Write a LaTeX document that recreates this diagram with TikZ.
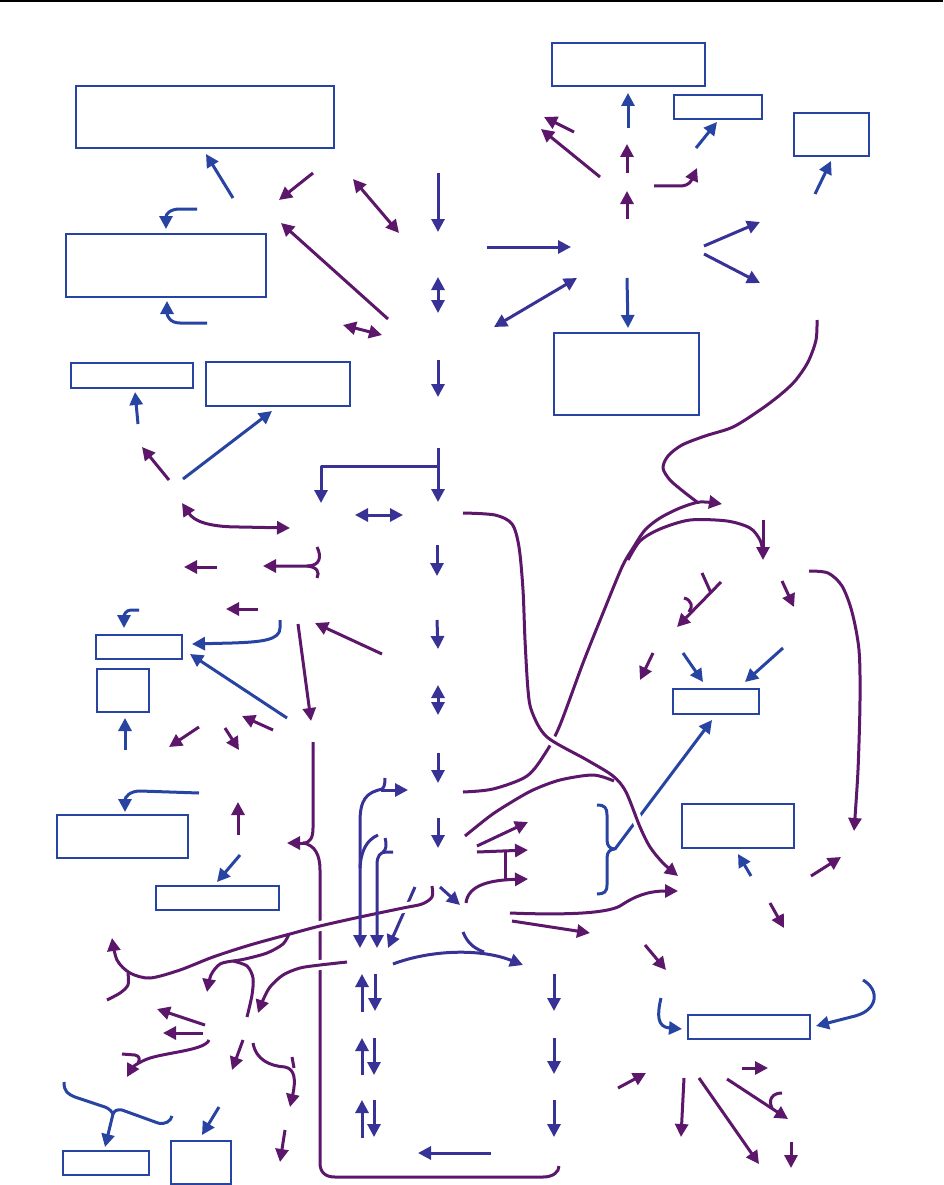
\documentclass[tikz,border=0pt]{standalone}
\usetikzlibrary{arrows.meta}
\definecolor{purp}{RGB}{92,22,106}
\definecolor{indg}{RGB}{56,50,150}
\definecolor{bblue}{RGB}{40,68,162}
\tikzset{
  lnbase/.style={line width=3pt, line cap=butt, line join=round},
  endtip/.style={-{Triangle[length=13pt,width=13pt]}},
  bothtips/.style={{Triangle[length=13pt,width=13pt]}-{Triangle[length=13pt,width=13pt]}},
  pl/.style={lnbase, color=purp},
  pu/.style={pl, endtip},
  pd/.style={pl, bothtips},
  il/.style={lnbase, color=indg},
  iu/.style={il, endtip},
  idd/.style={il, bothtips},
  bl/.style={lnbase, color=bblue},
  bu/.style={bl, endtip},
  boxst/.style={draw=bblue, line width=2pt, inner sep=0pt, outer sep=0pt, fill=white},
  gapped/.style={preaction={draw=white, line width=10pt}},
}
\begin{document}
\begin{tikzpicture}[x=1pt,y=-1pt]
\useasboundingbox (0,0) rectangle (943,1185);
\fill[white] (0,0) rectangle (943,1185);
\draw[black, line width=1.8pt] (0,1) -- (943,1);

% boxes
\node[boxst, minimum width=258pt, minimum height=62pt] (A) at (205,117) {};
\node[boxst, minimum width=200pt, minimum height=63pt] (B) at (166,265.5) {};
\node[boxst, minimum width=153pt, minimum height=43pt] (C) at (628.5,64.5) {};
\node[boxst, minimum width=88pt, minimum height=24pt] (D) at (718,107) {};
\node[boxst, minimum width=75pt, minimum height=43pt] (E) at (831.5,134.5) {};
\node[boxst, minimum width=145pt, minimum height=82pt] (F) at (626.5,374) {};
\node[boxst, minimum width=122pt, minimum height=25pt] (L) at (132,375.5) {};
\node[boxst, minimum width=144pt, minimum height=44pt] (M) at (278,384) {};
\node[boxst, minimum width=86pt, minimum height=24pt] (N) at (139,647) {};
\node[boxst, minimum width=52pt, minimum height=43pt] (O) at (123,690.5) {};
\node[boxst, minimum width=86pt, minimum height=25pt] (G) at (716,701.5) {};
\node[boxst, minimum width=112pt, minimum height=44pt] (H) at (738,826) {};
\node[boxst, minimum width=131pt, minimum height=43pt] (P) at (122.5,836.5) {};
\node[boxst, minimum width=123pt, minimum height=24pt] (Q) at (217.5,898) {};
\node[boxst, minimum width=122pt, minimum height=24pt] (K) at (749,1027) {};
\node[boxst, minimum width=86pt, minimum height=24pt] (I) at (106,1163) {};
\node[boxst, minimum width=60pt, minimum height=43pt] (J) at (201,1162.5) {};

% top-left
\draw[bu] (233,198) -- (206,154);
\draw[pu] (313,173) -- (279,200);
\draw[pd] (353,179) -- (399,233);
\draw[iu] (438,173) -- (438,232);
\draw[bu] (197,209) -- (180,209) .. controls (170,209) and (166,214) .. (166,229);
\draw[bu] (207,323) -- (180,323) .. controls (170,323) and (167,316) .. (167,301);
\draw[pu] (388,319) -- (281,223);
\draw[idd] (438,277) -- (438,313);
\draw[pd] (343,325) -- (382,335);

% top-right
\draw[bu] (628,128) -- (628,93);
\draw[pu] (574,132) -- (544,117);
\draw[pu] (600,177) -- (541,129);
\draw[pu] (627,173) -- (627,144);
\draw[pu] (627,219) -- (627,191);
\draw[bu] (696,148) -- (717,122);
\draw[pu] (654,186) -- (680,186) .. controls (690,186) and (692,179) .. (697,168);
\draw[bu] (815,194) -- (831,161);
\draw[iu] (487,247) -- (571,247);
\draw[idd] (494,327) -- (577,278);
\draw[bu] (627,278) -- (628,328);
\draw[iu] (704,246) -- (760,222);
\draw[iu] (704,254) -- (760,283);

% middle left
\draw[bu] (138,424) -- (135,392);
\draw[bu] (183,479) -- (272,411);
\draw[pu] (169,480) -- (142,447);
\draw[iu] (438,360) -- (438,397);
\draw[iu] (438,448) -- (438,502);
\draw[iu] (438,466) -- (321,466) -- (321,503);
\draw[idd] (355,515) -- (403,515);
\draw[pd] (182,503) .. controls (194,521) and (208,527) .. (240,527) -- (290,528);
\draw[iu] (437,545) -- (437,576);
\draw[pu] (217,567) -- (184,567);
\draw[pu] (317,547) .. controls (322,557) and (320,566) .. (307,566) -- (263,566);
\draw[pl] (307,566) .. controls (317,567) and (320,572) .. (317,578);
\draw[pu] (258,609) -- (226,609);
\draw[bu] (139,610) -- (131,610) .. controls (126,610) and (124,615) .. (124,628);
\draw[bu] (280,620) -- (280,628) .. controls (280,640) and (262,642) .. (232,643) -- (192,644);
\draw[bu] (287,718) -- (190,654);
\draw[pu] (298,624) -- (311,721);
\draw[pu] (382,654) -- (315,623);
\draw[iu] (437,620) -- (438,649);
\draw[idd] (438,685) -- (438,715);
\draw[bu] (125,750) -- (125,718);
\draw[pu] (199,727) -- (169,747);
\draw[pu] (225,728) -- (239,750);
\draw[pu] (273,730) -- (242,716);
\draw[iu] (438,753) -- (438,783);
\draw[bu] (199,793) -- (140,791) .. controls (130,791) and (125,797) .. (125,812);
\draw[pu] (238,835) -- (238,802);
\draw[bu] (240,855) -- (217,882);
\draw[iu] (438,818) -- (438,848);

% big purple bracket
\draw[pl] (313,742) -- (313,828) .. controls (313,838) and (310,843) .. (303,843)
  .. controls (315,845) and (320,855) .. (320,870) -- (320,1163)
  .. controls (320,1172) and (325,1177) .. (335,1177) -- (543,1177)
  .. controls (553,1177) and (559,1172) .. (559,1166);
\draw[pu] (305,843) -- (287,843);

% indigo diagonal (gapped by long line)
\draw[iu] (415,887) -- (388,948);

% long purple line
\draw[pu, gapped] plot[smooth, tension=0.5] coordinates {(432,886) (432,897) (422,904) (403,908) (360,917) (320,926) (290,934) (250,945) (213,957) (180,970) (150,978) (130,973) (117,960) (112,938)};
\draw[pl] plot[smooth] coordinates {(128,973) (128,985) (120,993) (107,1000)};
\draw[pl] plot[smooth] coordinates {(289,934) (283,944) (267,953) (245,959) (233,961)};
\draw[pu] plot[smooth] coordinates {(233,961) (220,964) (211,975) (207,992)};
\draw[pl] plot[smooth] coordinates {(233,961) (247,966) (253,978) (252,995) (247,1017)};
\draw[pu, gapped] plot[smooth] coordinates {(347,962) (320,965) (300,968) (283,975) (270,987) (263,1000) (258,1013)};

% indigo left structures
\draw[il] (385,778) .. controls (385,785) and (384,788) .. (381,790);
\draw[iu] (381,790) -- (408,790);
\draw[iu] (383,789) .. controls (366,792) and (360,800) .. (360,822) -- (360,948);
\draw[il] (378,835) .. controls (367,840) and (361,850) .. (360,868);
\draw[il] (385,838) .. controls (387,845) and (386,850) .. (383,852);
\draw[iu] (393,852) -- (386,852) .. controls (380,852) and (377,856) .. (377,865) -- (377,948);
\draw[iu] (440,887) -- (460,905);
\draw[iu] (393,964) .. controls (430,950) and (480,948) .. (523,965);
\draw[il] (463,932) .. controls (467,942) and (473,948) .. (484,952);

\draw[iu] (362,1012) -- (362,974);
\draw[iu] (375,974) -- (375,1011);
\draw[iu] (362,1075) -- (362,1038);
\draw[iu] (374,1038) -- (374,1075);
\draw[iu] (362,1138) -- (362,1100);
\draw[iu] (374,1100) -- (374,1137);
\draw[iu] (491,1153) -- (418,1153);
\draw[iu] (554,974) -- (554,1011);
\draw[iu] (554,1038) -- (554,1074);
\draw[iu] (554,1100) -- (554,1137);

% right side curves
\draw[pl] plot[smooth] coordinates {(817,320) (816,340) (808,362) (795,381) (780,395) (760,410) (733,427) (705,436) (682,445) (668,456) (663,468) (670,480) (684,492) (697,502)};
\draw[pu] plot[smooth] coordinates {(463,792) (493,789) (527,776) (546,752) (560,725) (583,663) (603,613) (622,567) (633,548) (645,530) (660,518) (680,508) (700,502) (722,504)};
\draw[pl] plot[smooth] coordinates {(628,560) (640,541) (660,529) (690,520) (727,521) (750,528) (760,540) (763,552)};
\draw[pu] (763,520) -- (763,560);

% blue brace and line to G
\draw[bl] (597,805) .. controls (605,805) and (607,808) .. (607,815) -- (607,840)
  .. controls (607,846) and (610,849) .. (615,849) .. controls (610,849) and (607,852) .. (607,858)
  -- (607,885) .. controls (607,892) and (604,894) .. (597,894);
\draw[bu] (615,849) -- (712,720);

% curve A
\draw[pu, gapped] plot[smooth] coordinates {(463,513) (495,515) (512,524) (519,547) (523,590) (525,640) (528,690) (532,712) (547,737) (587,760) (613,776) (626,792) (640,827) (650,847) (663,863) (678,876)};
\draw[pl] plot[smooth] coordinates {(465,836) (490,816) (510,803) (533,790) (560,780) (593,775) (614,781)};

\draw[pu] (477,846) -- (528,822);
\draw[pu] (477,852) -- (528,850);
\draw[pl] (505,851) -- (505,879);
\draw[pu] (466,903) .. controls (468,885) and (490,880) .. (528,879);
\draw[pu] (510,913) .. controls (560,915) and (605,914) .. (620,906) .. controls (635,896) and (648,891) .. (678,891);
\draw[pu] (512,921) -- (590,933);
\draw[pu] (645,945) -- (666,970);

\draw[pu] (653,653) -- (640,680);
\draw[bu] (683,653) -- (703,682);
\draw[bu] (783,648) -- (745,682);
\draw[pu] (721,582) -- (677,627);
\draw[pl] (702,573) -- (711,593);
\draw[pl] (684,598) .. controls (692,600) and (693,607) .. (689,612);
\draw[pu] (782,581) -- (794,607);
\draw[pu] plot[smooth] coordinates {(809,571) (828,573) (842,586) (852,612) (859,650) (860,700) (858,770) (854,831)};

\draw[bu] (751,876) -- (738,854);
\draw[pu] (811,876) -- (841,857);
\draw[pu] (770,903) -- (784,928);
\draw[bu] (661,998) .. controls (657,1015) and (657,1027) .. (682,1029);
\draw[bu] (863,980) .. controls (880,990) and (878,1010) .. (855,1016) -- (816,1026);
\draw[pu] (742,1068) -- (768,1068);
\draw[pu] (618,1088) -- (646,1073);
\draw[pu] (684,1078) -- (681,1137);
\draw[pu] (699,1078) -- (759,1164);
\draw[pu] (727,1079) -- (788,1119);
\draw[pl] (782,1093) .. controls (772,1093) and (768,1100) .. (772,1108);
\draw[pu] (791,1142) -- (791,1168);

% bottom-left
\draw[pu] (205,1025) -- (157,1009);
\draw[pu] (203,1033) -- (163,1033);
\draw[pu] (209,1040) .. controls (205,1050) and (170,1052) .. (150,1058) .. controls (138,1062) and (132,1068) .. (127,1077);
\draw[pl] (122,1054) -- (135,1055) .. controls (140,1056) and (140,1060) .. (138,1063);
\draw[pu] (243,1040) -- (232,1070);
\draw[pu] (253,1043) .. controls (256,1060) and (270,1066) .. (285,1067) .. controls (295,1069) and (296,1080) .. (290,1107);
\draw[pl] (292,1057) -- (294,1068);
\draw[pu] (285,1130) -- (280,1162);
\draw[bl] (64,1082) .. controls (64,1092) and (68,1094) .. (75,1097) -- (105,1107)
  .. controls (110,1109) and (112,1112) .. (113,1114) .. controls (114,1111) and (117,1109) .. (122,1110)
  -- (158,1123) .. controls (165,1125) and (171,1121) .. (172,1116);
\draw[bu] (113,1114) -- (105,1147);
\draw[bu] (219,1107) -- (202,1135);
\end{tikzpicture}
\end{document}
